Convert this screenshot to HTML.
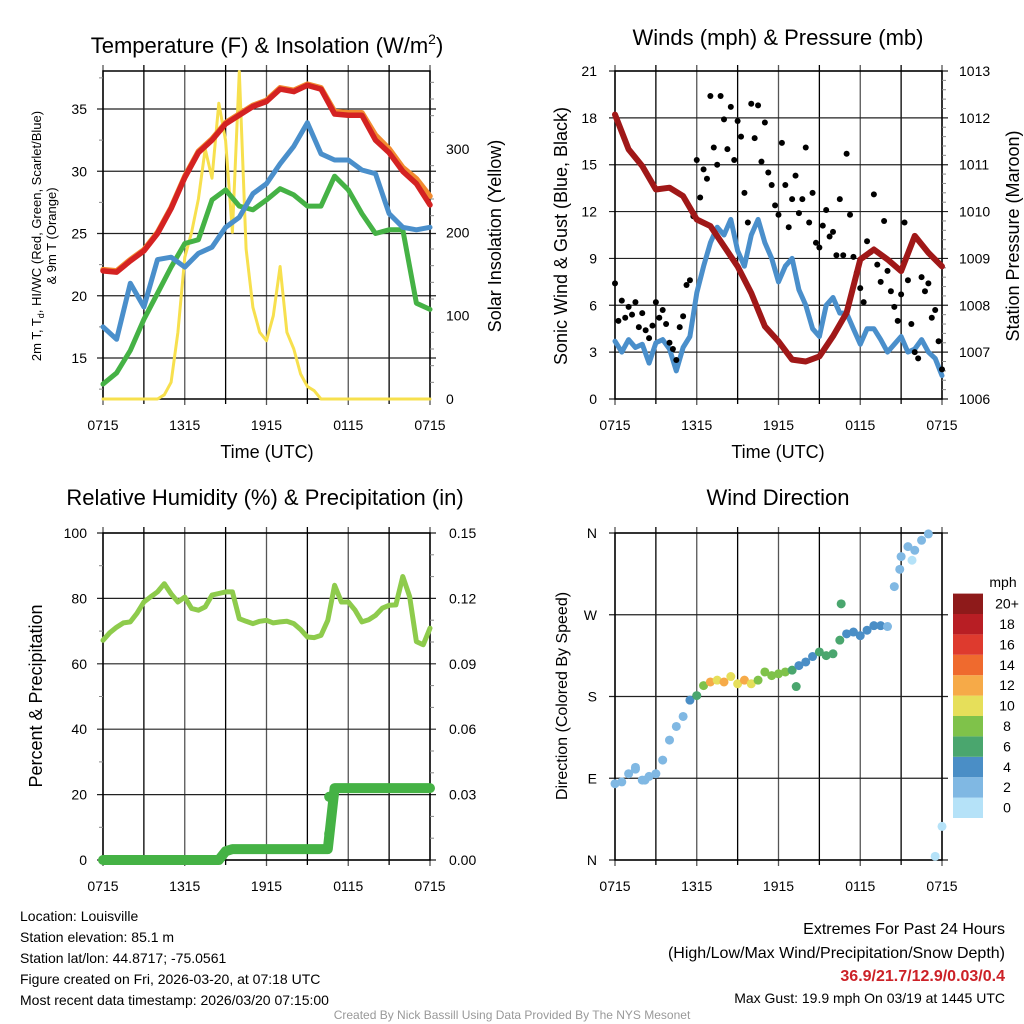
<!DOCTYPE html>
<html><head><meta charset="utf-8"><style>
body{margin:0;background:#fff;}
svg{display:block;font-family:"Liberation Sans",sans-serif;}
</style></head><body>
<svg id="c" width="1024" height="1024" viewBox="0 0 1024 1024"></svg>
<script>
// ---------- DATA ----------
const timeLabels = ["0715","1315","1915","0115","0715"];
const tempTicks = [15,20,25,30,35];
const solarTicks = [0,100,200,300];
const windTicks = [0,3,6,9,12,15,18,21];
const presTicks = [1006,1007,1008,1009,1010,1011,1012,1013];
const rhTicks = [0,20,40,60,80,100];
const precipTicks = ["0.00","0.03","0.06","0.09","0.12","0.15"];
const dirTicks = ["N","E","S","W","N"];
const speedBins = ["0","2","4","6","8","10","12","14","16","18","20+"];
const speedColors = ["#b5e2f8","#80b8e3","#4a8ec6","#4aa66e","#7fc24a","#e6df5a","#f6aa48","#ef6a2e","#de3a2e","#b81e24","#8e1a1a"];

const tempRed = [22.0,21.9,22.8,23.6,25.0,27.0,29.5,31.5,32.5,33.8,34.5,35.2,35.6,36.6,36.4,36.9,36.6,34.6,34.5,34.5,32.5,31.5,30.0,29.0,27.3];
const tempOrange = [22.1,22.0,22.9,23.7,25.1,27.1,29.6,31.6,32.6,33.9,34.6,35.3,35.7,36.7,36.5,37.0,36.7,34.8,34.7,34.7,32.9,31.8,30.3,29.4,28.0];
const dewGreen = [12.9,13.8,15.6,18.1,20.2,22.3,24.2,24.5,27.7,28.5,27.2,26.9,27.7,28.6,28.1,27.2,27.2,29.6,28.5,26.6,25.0,25.3,25.3,19.4,18.9];
const chillBlue = [17.5,16.5,21.0,19.1,22.9,23.1,22.3,23.4,23.9,25.5,26.3,28.2,29.0,30.6,32.0,33.9,31.4,30.9,30.9,30.1,29.8,26.6,25.5,25.3,25.5];
const solar = [0,0,0,0,0,0,0,0,0,5,20,80,170,200,240,300,265,355,310,200,393,180,110,80,70,100,159,80,60,30,15,10,0,0,0,0,0,0,0,0,0,0,0,0,0,0,0,0,0];

const windBlue = [3.7,3.0,3.8,3.3,3.5,2.3,3.6,3.8,3.2,1.8,3.3,4.0,6.8,8.5,10.0,11.0,10.5,11.5,9.5,8.5,10.5,11.5,10.0,9.0,7.5,8.5,9.0,7.0,6.0,4.5,4.0,6.0,6.5,5.5,5.5,4.5,3.5,4.5,4.5,3.8,3.0,3.5,4.0,3.0,3.2,3.8,3.0,2.6,1.5];
const gusts = [7.4,5.0,6.3,5.2,5.9,5.4,6.2,4.6,5.5,4.4,3.9,4.7,6.2,5.2,5.7,4.8,3.6,3.2,2.5,4.6,5.3,7.3,7.6,11.7,15.3,12.9,14.7,14.1,19.4,16.1,15.0,19.4,17.9,16.0,18.7,15.3,17.8,16.8,13.2,11.3,18.9,16.7,18.8,15.2,17.7,14.5,13.7,12.4,11.8,16.4,13.7,11.0,12.8,14.3,11.9,12.8,16.1,11.3,13.2,10.0,9.7,11.1,12.1,10.4,10.7,9.2,12.8,9.2,15.7,11.8,9.1,8.1,7.1,6.2,10.1,9.4,13.1,8.6,7.5,11.4,8.2,6.9,5.9,5.0,6.7,11.3,7.6,4.8,3.0,2.6,7.8,6.9,7.4,5.2,5.7,3.7,1.9];
const pressure = [1012.07,1011.33,1010.97,1010.47,1010.51,1010.33,1009.83,1009.69,1009.26,1008.83,1008.26,1007.55,1007.23,1006.84,1006.80,1006.91,1007.34,1007.84,1008.98,1009.19,1008.98,1008.73,1009.48,1009.12,1008.83];

const rh = [67.2,69.5,71.2,72.5,72.8,75.5,78.9,80.5,82.0,84.5,81.4,78.9,80.4,76.9,76.4,77.4,81.0,81.5,82.0,82.0,73.8,73.0,72.3,73.0,73.3,72.5,72.8,73.0,72.3,70.5,68.2,68.0,68.7,73.3,84.0,78.9,78.9,76.4,72.8,73.5,74.8,77.0,77.9,78.0,86.7,80.6,66.8,65.8,70.9];
const precip = [0,0,0,0,0,0,0,0,0,0,0,0,0,0,0,0,0,0,0.004,0.005,0.005,0.005,0.005,0.005,0.005,0.005,0.005,0.005,0.005,0.005,0.005,0.005,0.005,0.005,0.033,0.033,0.033,0.033,0.033,0.033,0.033,0.033,0.033,0.033,0.033,0.033,0.033,0.033,0.033];

const dirDeg = [84,86,95,100,88,92,95,110,132,147,158,176,181,192,196,198,196,202,194,198,194,198,207,203,205,207,209,214,218,224,229,225,227,242,249,251,247,253,258,258,257,301,334,345,341,352,359,4,37];
const dirSpeed = [3,3,2,3,3,2,3,2,2,2,3,5,7,9,12,11,12,11,10,12,10,9,8,9,9,8,7,5,4,5,6,6,6,6,4,4,5,4,4,5,3,3,3,2,3,3,2,1,1];
const extraDirHour = [16.6,13.3,1.5,2.2,20.9,21.8];
const extraDir = [282,191,102,88,320,330];
const extraSpeed = [7,7,2,2,3,1];

// ---------- HELPERS ----------
const NS="http://www.w3.org/2000/svg";
const svg=document.getElementById('c');
function el(tag,attrs,parent){const e=document.createElementNS(NS,tag);for(const k in attrs)e.setAttribute(k,attrs[k]);(parent||svg).appendChild(e);return e;}
function txt(s,x,y,size,anchor,name,extra){const t=el('text',Object.assign({x:x,y:y,'font-size':size,'text-anchor':anchor||'middle',fill:'#000'},extra||{}));t.textContent=s;


return t;}
function lin(d0,d1,r0,r1){return v=>r0+(v-d0)*(r1-r0)/(d1-d0);}
function polyline(vals,xf,yf,color,w,name){const n=vals.length;const pts=vals.map((v,i)=>xf(i*24/(n-1)).toFixed(1)+","+yf(v).toFixed(1)).join(" ");
const p=el('polyline',{points:pts,fill:'none',stroke:color,'stroke-width':w,'stroke-linejoin':'round','stroke-linecap':'round'});


return p;}

function frame(x0,x1,y0,y1,yTickPix,name){
  const g=el('g',{});
  
  
  for(let k=0;k<=8;k++){const x=x0+k*(x1-x0)/8;el('line',{x1:x,y1:y0-6,x2:x,y2:y1+(k%2==0?6:5),stroke:k%2?'#000':'#555','stroke-width':1.3},g);}
  yTickPix.forEach(y=>el('line',{x1:x0-6,y1:y,x2:x1+6,y2:y,stroke:'#222','stroke-width':1.2},g));
  el('rect',{x:x0,y:y0,width:x1-x0,height:y1-y0,fill:'none',stroke:'#000','stroke-width':1.5},g);
  return g;
}
function xLabels(x0,x1,y){timeLabels.forEach((s,i)=>txt(s,x0+i*(x1-x0)/4,y,14,'middle','x-tick-label'));}

// ---------- PANEL 1 ----------
{
const X=lin(0,24,103,430), Y=lin(15,35,358,109), YS=lin(0,300,399,149);
frame(103,430,71,399,tempTicks.map(Y),'temperature-plot-frame');
for(let v=20;v<=380;v+=20){if(v%100)el('line',{x1:430,y1:YS(v),x2:434,y2:YS(v),stroke:'#888'});}
for(let v=12.5;v<38;v+=2.5){if(v%5)el('line',{x1:99,y1:Y(v),x2:103,y2:Y(v),stroke:'#888'});}
polyline(solar,X,YS,'#f7e04e',3,'solar-insolation-line');
polyline(tempOrange,X,Y,'#f28b30',5.5,'9m-temperature-line');
polyline(tempRed,X,Y,'#d42222',5.5,'2m-temperature-line');
polyline(dewGreen,X,Y,'#45b245',5,'dewpoint-line');
polyline(chillBlue,X,Y,'#4a8fcb',5,'wind-chill-line');
tempTicks.forEach(v=>txt(v,87,Y(v)+5,14,'end','y-tick-label'));
solarTicks.forEach(v=>txt(v,446,YS(v)+5,14,'start','y2-tick-label'));
xLabels(103,430,430);
txt('Time (UTC)',267,458,18,'middle','x-axis-title');
const t1=txt('',267,53,22,'middle','chart-title-temperature');
t1.innerHTML='Temperature (F) &amp; Insolation (W/m<tspan dy="-9" font-size="14">2</tspan><tspan dy="9">)</tspan>';
txt('2m T, Td, HI/WC (Red, Green, Scarlet/Blue)',0,0,13,'middle','y-axis-title',{transform:'translate(41,236) rotate(-90)'}).innerHTML='2m T, T<tspan font-size="9" dy="3">d</tspan><tspan dy="-3">, HI/WC (Red, Green, Scarlet/Blue)</tspan>';
txt('& 9m T (Orange)',0,0,13,'middle','y-axis-title-line2',{transform:'translate(56,236) rotate(-90)'});
txt('Solar Insolation (Yellow)',0,0,18,'middle','y2-axis-title',{transform:'translate(501,236) rotate(-90)'});
}
// ---------- PANEL 2 ----------
{
const X=lin(0,24,615,942), Y=lin(0,21,399,71), YP=lin(1006,1013,399,71);
frame(615,942,71,399,windTicks.map(Y),'wind-plot-frame');
for(let v=1006.2;v<1013;v+=0.2){if(Math.abs(v-Math.round(v))>0.05)el('line',{x1:942,y1:YP(v),x2:946,y2:YP(v),stroke:'#888'});}
polyline(windBlue,X,Y,'#4a8fcb',5,'sonic-wind-line');
gusts.forEach((v,i)=>{const c=el('circle',{cx:X(i*24/(gusts.length-1)),cy:Y(v),r:3,fill:'#000'});

});
polyline(pressure,X,YP,'#a01818',6,'station-pressure-line');
windTicks.forEach(v=>txt(v,597,Y(v)+5,14,'end','y-tick-label'));
presTicks.forEach(v=>txt(v,959,YP(v)+5,14,'start','y2-tick-label'));
xLabels(615,942,430);
txt('Time (UTC)',778,458,18,'middle','x-axis-title');
txt('Winds (mph) & Pressure (mb)',778,45,22,'middle','chart-title-winds');
txt('Sonic Wind & Gust (Blue, Black)',0,0,18,'middle','y-axis-title',{transform:'translate(567,236) rotate(-90)'});
txt('Station Pressure (Maroon)',0,0,18,'middle','y2-axis-title',{transform:'translate(1019,236) rotate(-90)'});
}
// ---------- PANEL 3 ----------
{
const X=lin(0,24,103,430), Y=lin(0,100,860,533), YP=lin(0,0.15,860,533);
frame(103,430,533,860,rhTicks.map(Y),'humidity-plot-frame');
for(let v=10;v<100;v+=20)el('line',{x1:99,y1:Y(v),x2:103,y2:Y(v),stroke:'#888'});
for(let v=0.01;v<0.15;v+=0.01){if(Math.round(v*100)%3)el('line',{x1:430,y1:YP(v),x2:434,y2:YP(v),stroke:'#888'});}
polyline(rh,X,Y,'#8ecb4c',5,'relative-humidity-line');
polyline(precip,X,YP,'#45b245',10,'precipitation-line');
el('circle',{cx:X(16.6),cy:YP(0.012),r:5,fill:'#45b245'});
el('circle',{cx:X(16.6),cy:YP(0.029),r:5,fill:'#45b245'});
rhTicks.forEach(v=>txt(v,87,Y(v)+5,14,'end','y-tick-label'));
precipTicks.forEach(v=>txt(v,449,YP(+v)+5,14,'start','y2-tick-label'));
xLabels(103,430,891);
txt('Relative Humidity (%) & Precipitation (in)',265,505,22,'middle','chart-title-humidity');
txt('Percent & Precipitation',0,0,18,'middle','y-axis-title',{transform:'translate(42,696) rotate(-90)'});
}
// ---------- PANEL 4 ----------
{
const X=lin(0,24,615,942), Y=lin(0,360,860,533);
frame(615,942,533,860,[0,90,180,270,360].map(Y),'wind-direction-plot-frame');
function sc(s){return speedColors[Math.min(10,Math.floor(s/2))];}
dirDeg.forEach((d,i)=>{const c=el('circle',{cx:X(i*24/(dirDeg.length-1)),cy:Y(d),r:4.5,fill:sc(dirSpeed[i])});

});
extraDir.forEach((d,i)=>{const c=el('circle',{cx:X(extraDirHour[i]),cy:Y(d),r:4.5,fill:sc(extraSpeed[i])});

});
dirTicks.forEach((s,i)=>txt(s,597,Y(i*90)+5,14,'end','y-tick-label'));
xLabels(615,942,891);
txt('Wind Direction',778,505,22,'middle','chart-title-direction');
txt('Direction (Colored By Speed)',0,0,16,'middle','y-axis-title',{transform:'translate(567,696) rotate(-90)'});
txt('mph',1003,587,14,'middle','colorbar-title');
speedBins.forEach((s,i)=>{const y=818-(i+1)*20.4;
const r=el('rect',{x:953,y:y,width:30,height:20.4,fill:speedColors[i]});


txt(s,1007,y+15,14,'middle','colorbar-label');});
}
// ---------- FOOTER ----------
["Location: Louisville","Station elevation: 85.1 m","Station lat/lon: 44.8717; -75.0561","Figure created on Fri, 2026-03-20, at 07:18 UTC","Most recent data timestamp: 2026/03/20 07:15:00"].forEach((s,i)=>txt(s,20,921+i*21,14,'start','station-info-line'));
txt('Extremes For Past 24 Hours',1005,934,16,'end','extremes-title');
txt('(High/Low/Max Wind/Precipitation/Snow Depth)',1005,958,16,'end','extremes-legend');
txt('36.9/21.7/12.9/0.03/0.4',1005,981,16,'end','extremes-values',{fill:'#cc2127','font-weight':'bold'});
txt('Max Gust: 19.9 mph On 03/19 at 1445 UTC',1005,1003,14,'end','max-gust');
txt('Created By Nick Bassill Using Data Provided By The NYS Mesonet',512,1019,12,'middle','credit-line',{fill:'#999'});
</script>
</body></html>
